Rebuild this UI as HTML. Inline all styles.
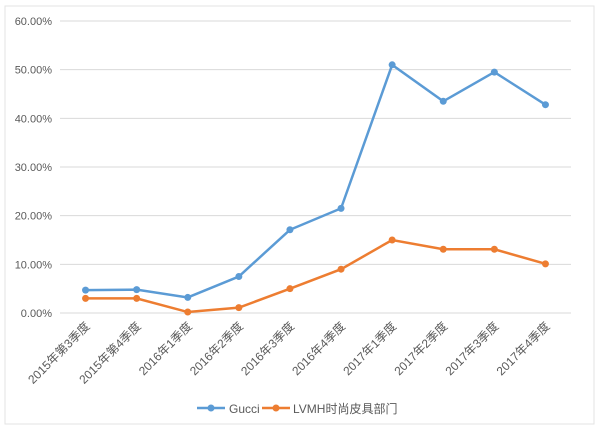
<!DOCTYPE html>
<html><head><meta charset="utf-8"><style>
body{margin:0;background:#fff;}
svg{display:block;font-family:"Liberation Sans","Noto Sans CJK SC",sans-serif;}
</style></head><body>
<svg id="c" width="601" height="428">
<rect x="5" y="6" width="589" height="418" fill="#fff" stroke="#e3e3e3"/>
<g id="grid"></g><g id="series"></g>
<g>
<g><line x1="197" y1="408" x2="225" y2="408" stroke="#5b9bd5" stroke-width="2.5"/><circle cx="211" cy="408" r="3.5" fill="#5b9bd5"/><text x="229" y="413" font-size="12" fill="#595959">Gucci</text></g>
<g><line x1="262" y1="408" x2="290" y2="408" stroke="#ed7d31" stroke-width="2.5"/><circle cx="276" cy="408" r="3.5" fill="#ed7d31"/><text x="293" y="413" font-size="12" fill="#595959">LVMH时尚皮具部门</text></g>
</g>
</svg>
<script>
const categories=["2015年第3季度","2015年第4季度","2016年1季度","2016年2季度","2016年3季度","2016年4季度","2017年1季度","2017年2季度","2017年3季度","2017年4季度"];
const gucci=[4.7,4.8,3.2,7.5,17.1,21.5,51.0,43.5,49.5,42.8];
const lvmh=[3.0,3.0,0.2,1.1,5.0,9.0,15.0,13.1,13.1,10.1];
const yTicks=[0,10,20,30,40,50,60];
const ns="http://www.w3.org/2000/svg";
const X0=60,X1=571,Y0=313,YT=21;
const x=i=>X0+(X1-X0)/categories.length*(i+0.5);
const y=v=>Y0-(Y0-YT)*v/60;
function mk(t,a,p){const e=document.createElementNS(ns,t);for(const k in a)e.setAttribute(k,a[k]);p.appendChild(e);return e;}
const g=document.getElementById('grid');
yTicks.forEach(v=>{
const l=mk('line',{x1:X0,x2:X1,y1:y(v),y2:y(v),stroke:'#d9d9d9'},g);


const t=mk('text',{x:52,y:y(v)+4,'text-anchor':'end','font-size':'11',fill:'#595959'},g);
t.textContent=v.toFixed(2)+'%';


});
categories.forEach((c,i)=>{
const t=mk('text',{x:x(i)+5,y:327,'text-anchor':'end','font-size':'12',fill:'#595959',transform:`rotate(-45 ${x(i)+5} 327)`},g);
t.textContent=c;


});
const s=document.getElementById('series');
[[gucci,'#5b9bd5','gucci'],[lvmh,'#ed7d31','lvmh']].forEach(([d,col,n])=>{
const p=mk('polyline',{points:d.map((v,i)=>x(i)+','+y(v)).join(' '),fill:'none',stroke:col,'stroke-width':2.5},s);


d.forEach((v,i)=>{
const c=mk('circle',{cx:x(i),cy:y(v),r:3.5,fill:col},s);


});
});
</script>
</body></html>
